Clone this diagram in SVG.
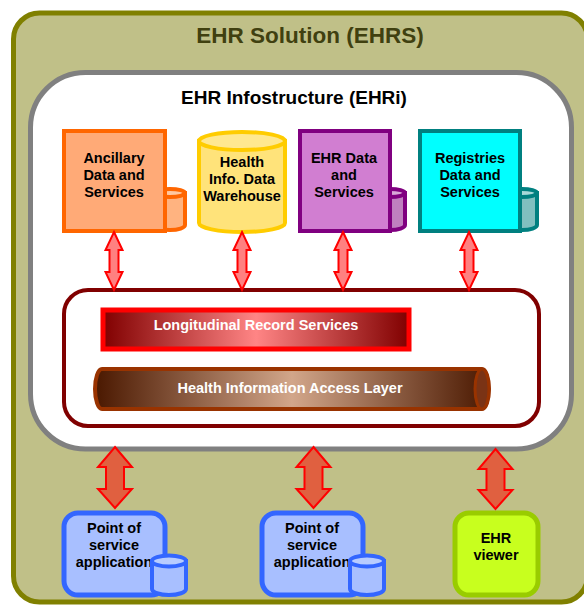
<svg xmlns="http://www.w3.org/2000/svg" width="584" height="606" viewBox="0 0 584 606">
<defs>
<linearGradient id="lrs" x1="0" y1="0" x2="1" y2="0">
<stop offset="0" stop-color="#800000"/><stop offset="0.5" stop-color="#FF8585"/><stop offset="1" stop-color="#800000"/>
</linearGradient>
<linearGradient id="hial" x1="0" y1="0" x2="1" y2="0">
<stop offset="0" stop-color="#4A1800"/><stop offset="0.5" stop-color="#D2A68A"/><stop offset="1" stop-color="#4A1800"/>
</linearGradient>
<style>
text{font-family:"Liberation Sans",Arial,sans-serif;font-weight:bold;text-anchor:middle}
.t{font-size:14.5px;fill:#000}
.w{font-size:14.5px;fill:#fff}
.sa{fill:#FF8080;stroke:#FF0000;stroke-width:2;stroke-linejoin:miter}
.ba{fill:#E06040;stroke:#FF0000;stroke-width:2}
</style>
</defs>
<g id="ehrs">
<rect x="13.5" y="13" width="574" height="589" rx="26" fill="#C0C088" stroke="#808000" stroke-width="5"/>
<text x="310" y="43" style="font-size:22.5px;fill:#404010">EHR Solution (EHRS)</text>
</g>
<g id="ehri">
<rect x="30.5" y="72.5" width="541" height="376.5" rx="55" fill="#FFFFFF" stroke="#808080" stroke-width="5"/>
<text x="294" y="104" style="font-size:19px;fill:#000">EHR Infostructure (EHRi)</text>
</g>
<g id="ancillary">
<path d="M155 193 L155 225 A15 5 0 0 0 185 225 L185 193 Z" fill="#FFB380" stroke="#FF6600" stroke-width="4"/>
<ellipse cx="170" cy="193" rx="15" ry="4" fill="#FFC8A0" stroke="#FF6600" stroke-width="4"/>
<rect x="64" y="131" width="101" height="100" fill="#FFAA77" stroke="#FF6600" stroke-width="4"/>
<text class="t" x="114" y="163">Ancillary</text>
<text class="t" x="114" y="180">Data and</text>
<text class="t" x="114" y="197">Services</text>
</g>
<g id="warehouse">
<path d="M199 141 L199 223 A43 9 0 0 0 285 223 L285 141 Z" fill="#FFE37A" stroke="#FFCC00" stroke-width="4"/>
<ellipse cx="242" cy="141" rx="43" ry="9" fill="#FFE890" stroke="#FFCC00" stroke-width="4"/>
<text class="t" x="242" y="167">Health</text>
<text class="t" x="242" y="184">Info. Data</text>
<text class="t" x="242" y="201">Warehouse</text>
</g>
<g id="ehrdata">
<path d="M375 193 L375 225 A15 5 0 0 0 405 225 L405 193 Z" fill="#C080C0" stroke="#800080" stroke-width="4"/>
<ellipse cx="390" cy="193" rx="15" ry="4" fill="#D8A8D8" stroke="#800080" stroke-width="4"/>
<rect x="300" y="131" width="90" height="100" fill="#D17ED1" stroke="#800080" stroke-width="4"/>
<text class="t" x="344" y="163">EHR Data</text>
<text class="t" x="344" y="180">and</text>
<text class="t" x="344" y="197">Services</text>
</g>
<g id="registries">
<path d="M507 193 L507 225 A15 5 0 0 0 537 225 L537 193 Z" fill="#80C0C0" stroke="#008080" stroke-width="4"/>
<ellipse cx="522" cy="193" rx="15" ry="4" fill="#A8D8D8" stroke="#008080" stroke-width="4"/>
<rect x="420" y="131" width="100" height="100" fill="#00FFFF" stroke="#008080" stroke-width="4"/>
<text class="t" x="470" y="163">Registries</text>
<text class="t" x="470" y="180">Data and</text>
<text class="t" x="470" y="197">Services</text>
</g>
<g id="layer">
<rect x="64" y="290" width="475" height="136" rx="24" fill="#FFFFFF" stroke="#800000" stroke-width="4"/>
</g>
<g id="lrs-node">
<rect x="103" y="310" width="306" height="39" fill="url(#lrs)" stroke="#FF0000" stroke-width="5"/>
<text class="w" x="256" y="330">Longitudinal Record Services</text>
</g>
<g id="hial-node">
<path d="M102 369 L482 369 A7 20 0 0 1 482 409 L102 409 A7 20 0 0 1 102 369 Z" fill="url(#hial)" stroke="#993300" stroke-width="4"/>
<ellipse cx="482" cy="389" rx="7" ry="20" fill="#7A3315" stroke="#993300" stroke-width="3"/>
<text class="w" x="290" y="393">Health Information Access Layer</text>
</g>
<g id="pos1">
<rect x="64" y="513" width="101" height="82" rx="14" fill="#A8BFFF" stroke="#3366FF" stroke-width="5"/>
<text class="t" x="114" y="533">Point of</text>
<text class="t" x="114" y="550">service</text>
<text class="t" x="114" y="567">application</text>
<path d="M152 561 L152 589 A17 6 0 0 0 186 589 L186 561 Z" fill="#A8BFFF" stroke="#3366FF" stroke-width="4"/>
<ellipse cx="169" cy="561" rx="17" ry="5.5" fill="#B8CCFF" stroke="#3366FF" stroke-width="4"/>
</g>
<g id="pos2">
<rect x="262" y="513" width="101" height="82" rx="14" fill="#A8BFFF" stroke="#3366FF" stroke-width="5"/>
<text class="t" x="312" y="533">Point of</text>
<text class="t" x="312" y="550">service</text>
<text class="t" x="312" y="567">application</text>
<path d="M350 561 L350 589 A17 6 0 0 0 384 589 L384 561 Z" fill="#A8BFFF" stroke="#3366FF" stroke-width="4"/>
<ellipse cx="367" cy="561" rx="17" ry="5.5" fill="#B8CCFF" stroke="#3366FF" stroke-width="4"/>
</g>
<g id="viewer">
<rect x="455" y="513" width="83" height="82" rx="14" fill="#C8FF1E" stroke="#99CC00" stroke-width="5"/>
<text class="t" x="496" y="543">EHR</text>
<text class="t" x="496" y="560">viewer</text>
</g>
<g id="connectors">
<polygon class="sa" points="114,232 122.5,250 118.5,250 118.5,272 122.5,272 114,290 105.5,272 109.5,272 109.5,250 105.5,250"/>
<polygon class="sa" points="242,232 250.5,250 246.5,250 246.5,272 250.5,272 242,290 233.5,272 237.5,272 237.5,250 233.5,250"/>
<polygon class="sa" points="343,232 351.5,250 347.5,250 347.5,272 351.5,272 343,290 334.5,272 338.5,272 338.5,250 334.5,250"/>
<polygon class="sa" points="469,232 477.5,250 473.5,250 473.5,272 477.5,272 469,290 460.5,272 464.5,272 464.5,250 460.5,250"/>
<polygon class="ba" points="115,447 132,467 124,467 124,489 132,489 115,508 98,489 106,489 106,467 98,467"/>
<polygon class="ba" points="313.5,447 330.5,467 322.5,467 322.5,489 330.5,489 313.5,508 296.5,489 304.5,489 304.5,467 296.5,467"/>
<polygon class="ba" points="495.5,449 512.5,469 504.5,469 504.5,490 512.5,490 495.5,509 478.5,490 486.5,490 486.5,469 478.5,469"/>
</g>
</svg>
